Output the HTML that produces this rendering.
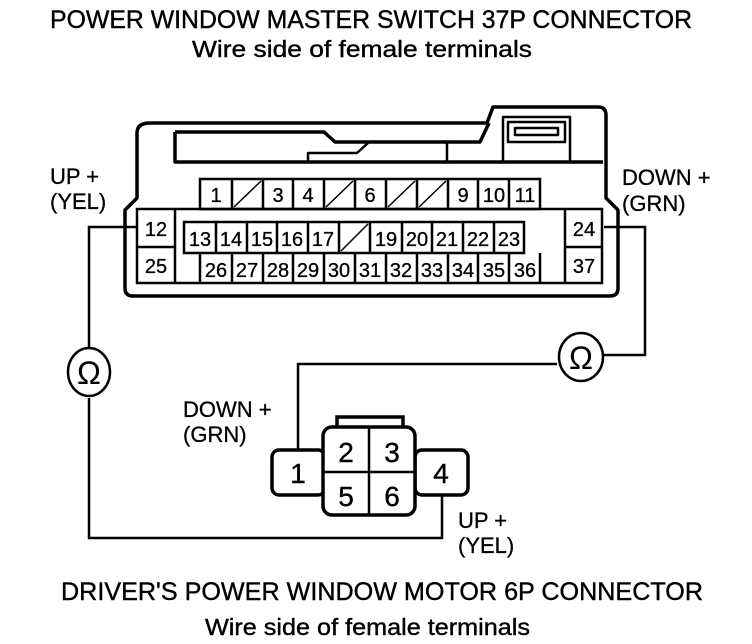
<!DOCTYPE html>
<html><head><style>
html,body{margin:0;padding:0;background:#fff;}
svg{display:block;}
text{font-family:"Liberation Sans",Arial,sans-serif;fill:#000;}
</style></head><body>
<svg width="752" height="644" viewBox="0 0 752 644" xmlns="http://www.w3.org/2000/svg">
<text x="50" y="28" font-size="25" textLength="642" lengthAdjust="spacingAndGlyphs" stroke="#000" stroke-width="0.4">POWER WINDOW MASTER SWITCH 37P CONNECTOR</text>
<text x="192" y="57" font-size="23" textLength="340" lengthAdjust="spacingAndGlyphs" stroke="#000" stroke-width="0.4">Wire side of female terminals</text>

<g fill="none" stroke="#000" stroke-width="3.5" stroke-linejoin="round">
<path d="M150,123 L487,123 L493,107 L598,107 Q606,107 606,115 L606,198 L618,210 L618,288 Q618,296 610,296 L133,296 Q125,296 125,288 L125,210 L137,198 L137,133 Q137,123 150,123 Z"/>
<path d="M175,132 L324,132 L335,142 L480,142 L489,123"/>
<path d="M175,132 L175,162 L603,162"/>
<path d="M308,162 L308,153 L357,153 L368,143" stroke-width="2.5"/>
<path d="M447,142 L447,162" stroke-width="2.5"/>
<rect x="503" y="117" width="67" height="45" stroke-width="2.5"/>
<rect x="508" y="122" width="57" height="20" stroke-width="2.5"/>
<rect x="515" y="128" width="43" height="7" stroke-width="2.5"/>
</g>

<g fill="none" stroke="#000" stroke-width="2.5">
<rect x="200" y="179" width="340" height="30"/>
<rect x="137" y="209" width="465" height="74"/>
<line x1="175" y1="209" x2="175" y2="283"/>
<line x1="137" y1="247" x2="175" y2="247"/>
<line x1="565" y1="209" x2="565" y2="283"/>
<line x1="565" y1="247" x2="602" y2="247"/>
<rect x="184" y="222" width="340" height="31"/>
<line x1="200" y1="253" x2="200" y2="283"/>
<line x1="540" y1="253" x2="540" y2="283"/>
<path d="M232,179V209M263,179V209M293,179V209M324,179V209M355,179V209M386,179V209M417,179V209M448,179V209M478,179V209M509,179V209"/>
<path d="M216,222V253M247,222V253M277,222V253M308,222V253M339,222V253M370,222V253M402,222V253M432,222V253M463,222V253M494,222V253"/>
<path d="M232,253V283M263,253V283M293,253V283M324,253V283M355,253V283M386,253V283M417,253V283M448,253V283M478,253V283M509,253V283"/>
<path d="M234,207L261,181M326,207L353,181M388,207L415,181M419,207L446,181M341,251L368,224" stroke-width="1.5"/>
</g>
<g font-size="20" text-anchor="middle" stroke="#000" stroke-width="0.3">
<text x="216" y="202">1</text><text x="278" y="202">3</text><text x="308" y="202">4</text><text x="370" y="202">6</text><text x="463" y="202">9</text><text x="494" y="202">10</text><text x="525" y="202">11</text>
<text x="156" y="236">12</text><text x="156" y="273">25</text><text x="584" y="236">24</text><text x="584" y="273">37</text>
<text x="200" y="246">13</text><text x="231" y="246">14</text><text x="262" y="246">15</text><text x="292" y="246">16</text><text x="323" y="246">17</text><text x="386" y="246">19</text><text x="417" y="246">20</text><text x="447" y="246">21</text><text x="478" y="246">22</text><text x="509" y="246">23</text>
<text x="216" y="277">26</text><text x="247" y="277">27</text><text x="278" y="277">28</text><text x="308" y="277">29</text><text x="339" y="277">30</text><text x="370" y="277">31</text><text x="401" y="277">32</text><text x="432" y="277">33</text><text x="463" y="277">34</text><text x="494" y="277">35</text><text x="525" y="277">36</text>
</g>

<g fill="none" stroke="#000" stroke-width="2.5">
<path d="M137,227 L89,227 L89,347"/>
<path d="M89,398 L89,538 L442,538 L442,495"/>
<path d="M604,227 L645,227 L645,355 L604,355"/>
<path d="M557,364 L298,364 L298,450"/>
<ellipse cx="89" cy="372" rx="21" ry="24"/>
<ellipse cx="581" cy="357" rx="22" ry="24"/>
</g>
<text x="89" y="384" font-size="32" text-anchor="middle">Ω</text>
<text x="581" y="369" font-size="32" text-anchor="middle">Ω</text>

<g fill="none" stroke="#000" stroke-width="3.5">
<rect x="337" y="417" width="66" height="12"/>
<rect x="272" y="450" width="53" height="45" rx="7"/>
<rect x="415" y="450" width="53" height="45" rx="7"/>
<rect x="323" y="427" width="92" height="88" rx="9" fill="#fff"/>
<line x1="369" y1="427" x2="369" y2="515" stroke-width="2.5"/>
<line x1="323" y1="472" x2="415" y2="472" stroke-width="2.5"/>
</g>
<g font-size="28" text-anchor="middle" stroke="#000" stroke-width="0.4">
<text x="298" y="483">1</text><text x="346" y="462">2</text><text x="392" y="462">3</text>
<text x="346" y="506">5</text><text x="392" y="506">6</text><text x="441" y="483">4</text>
</g>

<g font-size="22" stroke="#000" stroke-width="0.3">
<text x="50" y="184">UP +</text><text x="50" y="209">(YEL)</text>
<text x="622" y="185">DOWN +</text><text x="622" y="211">(GRN)</text>
<text x="183" y="417">DOWN +</text><text x="183" y="442">(GRN)</text>
<text x="458" y="528">UP +</text><text x="458" y="553">(YEL)</text>
</g>

<text x="61" y="600" font-size="25" textLength="642" lengthAdjust="spacingAndGlyphs" stroke="#000" stroke-width="0.4">DRIVER'S POWER WINDOW MOTOR 6P CONNECTOR</text>
<text x="205" y="635" font-size="23" textLength="325" lengthAdjust="spacingAndGlyphs" stroke="#000" stroke-width="0.4">Wire side of female terminals</text>
</svg>
</body></html>
